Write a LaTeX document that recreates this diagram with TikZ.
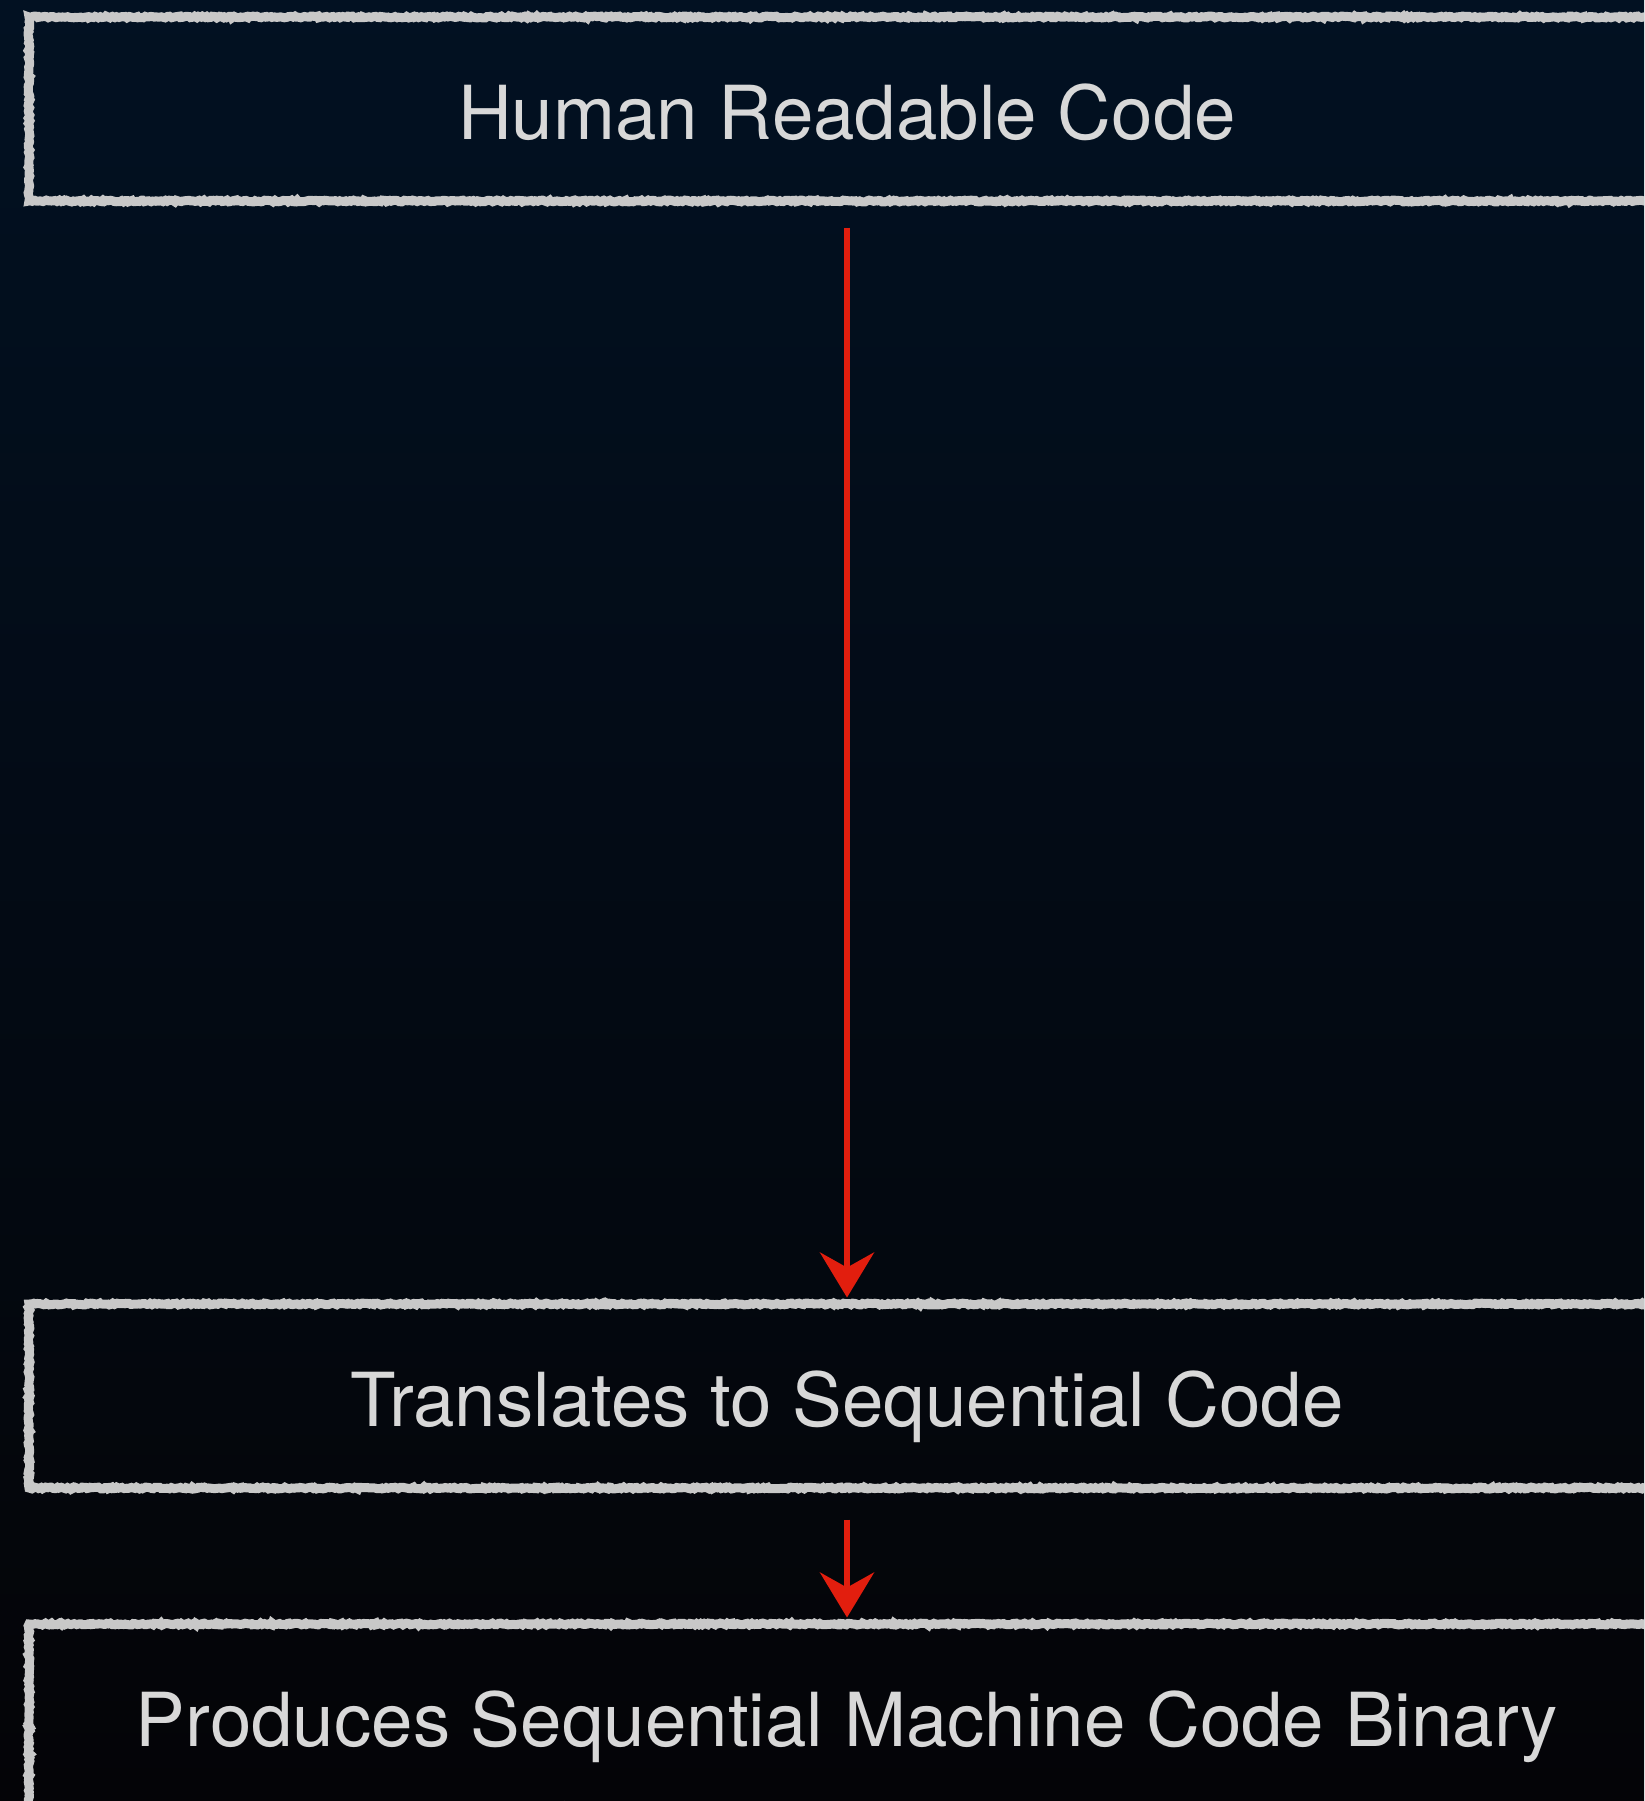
\documentclass[tikz,border=0pt]{standalone}
\usepackage{fontspec}
\setmainfont{TeX Gyre Heros}
\usetikzlibrary{arrows.meta,decorations.pathmorphing}
\definecolor{chalk}{RGB}{200,200,200}
\definecolor{labeltext}{RGB}{216,216,216}
\definecolor{arrowred}{RGB}{226,30,14}
\definecolor{bgtop}{RGB}{2,17,34}
\definecolor{bgbottom}{RGB}{4,4,7}
\begin{document}
\begin{tikzpicture}[x=1pt,y=-1pt,
  stage/.style={draw=chalk, line width=9pt, minimum width=1636pt,
    minimum height=184pt, inner sep=0pt, text=labeltext,
    font=\fontsize{74.5}{90}\selectfont, text height=60pt, text depth=0pt,
    decorate, decoration={random steps, segment length=2pt, amplitude=0.9pt}},
  flow/.style={draw=arrowred, line width=6pt,
    -{Stealth[length=45pt,width=54pt,inset=15pt]}}]
\useasboundingbox (0,0) rectangle (1644,1801);
\clip (0,0) rectangle (1644,1801);
\fill[top color=bgtop, bottom color=bgbottom] (0,0) rectangle (1644,1801);

\node[stage] (src) at (847,109)  {Human Readable Code};
\node[stage] (seq) at (847,1396) {Translates to Sequential Code};
\node[stage] (bin) at (847,1716) {Produces Sequential Machine Code Binary};

\draw[flow, shorten <=22pt, shorten >=2pt] (src) -- (seq);
\draw[flow, shorten <=27pt, shorten >=2pt] (seq) -- (bin);
\end{tikzpicture}
\end{document}
